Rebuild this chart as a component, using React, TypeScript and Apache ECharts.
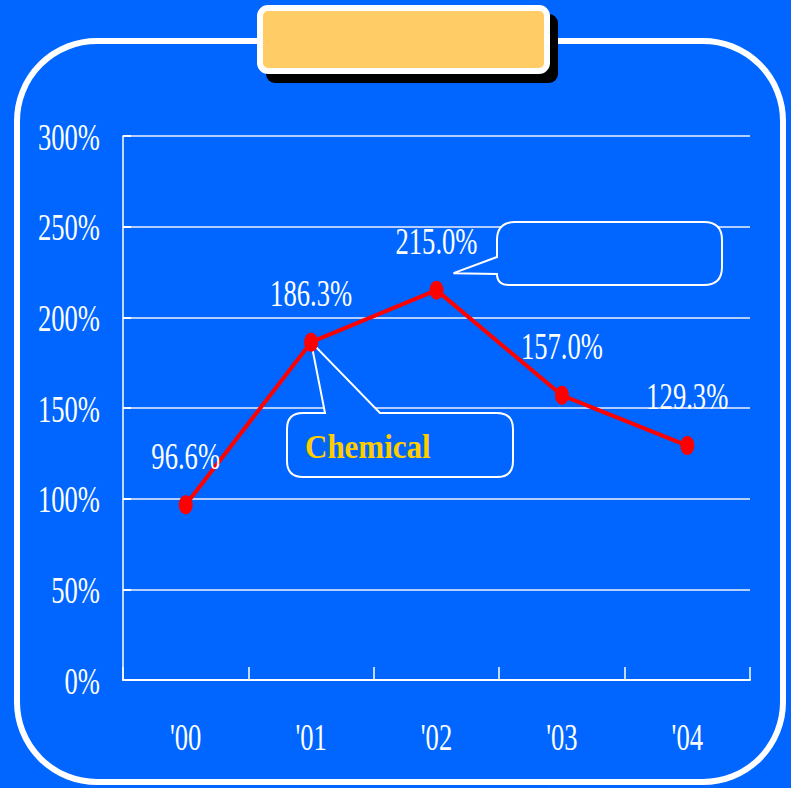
import React, { useEffect, useRef } from "react";
import * as echarts from "echarts";

// Yearly growth rates, in percent
const categories = ["'00", "'01", "'02", "'03", "'04"];
const growthPct = [96.6, 186.3, 215.0, 157.0, 129.3];
const yTickValues = [0, 50, 100, 150, 200, 250, 300];
const calloutLabel = "Chemical";

const BLUE = "#0066FF";
const SERIF = '"Liberation Serif", "Times New Roman", serif';
// Times-style lettering drawn tall and narrow
const LABEL_SIZE = 26.6;
const LABEL_STRETCH = 1.44;

function stretchedText(
  x: number,
  y: number,
  text: string,
  align: string,
  extra: Record<string, unknown> = {}
) {
  return {
    type: "text",
    x,
    y,
    scaleY: LABEL_STRETCH,
    silent: true,
    style: {
      text,
      fill: "#ffffff",
      fontSize: LABEL_SIZE,
      fontFamily: SERIF,
      align,
      verticalAlign: "middle",
      ...extra,
    },
  };
}

function chemCalloutPath(tx: number, ty: number) {
  const L = 287, T = 413, R = 513, B = 477, r = 16;
  return `M ${L + r} ${T} L 325 ${T} L ${tx} ${ty} L 380 ${T} L ${R - r} ${T} Q ${R} ${T} ${R} ${T + r} L ${R} ${B - r} Q ${R} ${B} ${R - r} ${B} L ${L + r} ${B} Q ${L} ${B} ${L} ${B - r} L ${L} ${T + r} Q ${L} ${T} ${L + r} ${T} Z`;
}

function peakCalloutPath(tx: number, ty: number) {
  const L = 497, T = 222, R = 722, B = 285, r = 18;
  return `M ${L + r} ${T} L ${R - r} ${T} Q ${R} ${T} ${R} ${T + r} L ${R} ${B - r} Q ${R} ${B} ${R - r} ${B} L ${L + 12} ${B} Q ${L} ${B} ${L} ${B - 11} L ${tx} ${ty} L ${L} 257 L ${L} ${T + r} Q ${L} ${T} ${L + r} ${T} Z`;
}

export default function App() {
  const ref = useRef<HTMLDivElement>(null);

  useEffect(() => {
    if (!ref.current) return;
    const chart = echarts.init(ref.current, null, { renderer: "svg" });

    const option: any = {
      animation: false,
      backgroundColor: BLUE,
      grid: { left: 123, top: 136, width: 627, height: 544 },
      xAxis: {
        type: "category",
        data: categories,
        boundaryGap: true,
        axisLine: { lineStyle: { color: "#ffffff", width: 2 } },
        axisTick: { show: true, inside: true, length: 13, lineStyle: { color: "#ffffff", width: 1.5 } },
        axisLabel: { show: false },
        splitLine: { show: false },
      },
      yAxis: {
        type: "value",
        min: 0,
        max: 300,
        interval: 50,
        axisLine: { show: true, lineStyle: { color: "#ffffff", width: 1.5 } },
        axisTick: { show: true, inside: true, length: 8, lineStyle: { color: "#ffffff", width: 2 } },
        axisLabel: { show: false },
        splitLine: { show: true, lineStyle: { color: "#eef2ff", width: 1.5 } },
      },
      series: [
        {
          name: "Growth",
          type: "line",
          data: growthPct,
          symbol: "circle",
          symbolSize: [14, 19],
          lineStyle: { color: "#ff0000", width: 4 },
          itemStyle: { color: "#ff0000" },
          label: { show: false },
          z: 3,
        },
        {
          // value labels above each point
          name: "Values",
          type: "custom",
          silent: true,
          z: 4,
          data: growthPct.map((v, i) => [i, v]),
          renderItem: (params: any, api: any) => {
            const p = api.coord([api.value(0), api.value(1)]);
            const v = Number(api.value(1));
            return stretchedText(p[0], p[1] - 49, `${v.toFixed(1)}%`, "center");
          },
        },
        {
          // y axis tick labels
          name: "YLabels",
          type: "custom",
          silent: true,
          data: yTickValues.map((v) => [0, v]),
          renderItem: (params: any, api: any) => {
            const p = api.coord([0, api.value(1)]);
            const cs = params.coordSys;
            return stretchedText(cs.x - 23, p[1] + 1, `${api.value(1)}%`, "right");
          },
        },
        {
          // x axis category labels
          name: "XLabels",
          type: "custom",
          silent: true,
          data: categories.map((_, i) => [i, 0]),
          renderItem: (params: any, api: any) => {
            const p = api.coord([api.value(0), 0]);
            const cs = params.coordSys;
            return stretchedText(p[0], cs.y + cs.height + 57, categories[params.dataIndex], "center");
          },
        },
      ],
    };
    chart.setOption(option);

    // callout pointers anchored to the plotted points
    const chemTip = chart.convertToPixel({ seriesIndex: 0 }, [1, growthPct[1]]) as number[];
    const peak = chart.convertToPixel({ seriesIndex: 0 }, [2, growthPct[2]]) as number[];
    echarts.graphic.registerShape(
      "calloutChem",
      echarts.graphic.extendPath(chemCalloutPath(chemTip[0], chemTip[1]), {}) as any
    );
    echarts.graphic.registerShape(
      "calloutPeak",
      echarts.graphic.extendPath(peakCalloutPath(peak[0] + 17, peak[1] - 17), {}) as any
    );

    chart.setOption({
      graphic: [
        {
          type: "rect",
          z: 0,
          silent: true,
          shape: { x: 17, y: 41, width: 766, height: 741, r: 80 },
          style: { fill: "none", stroke: "#ffffff", lineWidth: 6 },
        },
        {
          type: "rect",
          z: 0,
          silent: true,
          shape: { x: 266, y: 14, width: 292, height: 69, r: 9 },
          style: { fill: "#000000" },
        },
        {
          type: "rect",
          z: 0,
          silent: true,
          shape: { x: 260, y: 8, width: 287, height: 63, r: 8 },
          style: { fill: "#FFCC66", stroke: "#ffffff", lineWidth: 6 },
        },
        {
          type: "calloutPeak",
          z: 1,
          silent: true,
          x: 0,
          y: 0,
          style: { fill: BLUE, stroke: "#ffffff", lineWidth: 2 },
        },
        {
          type: "calloutChem",
          z: 1,
          silent: true,
          x: 0,
          y: 0,
          style: { fill: BLUE, stroke: "#ffffff", lineWidth: 2 },
        },
        {
          type: "text",
          z: 5,
          silent: true,
          x: 305,
          y: 446,
          scaleY: 1.1,
          style: {
            text: calloutLabel,
            fill: "#FFCC00",
            fontSize: 31,
            fontWeight: "bold",
            fontFamily: SERIF,
            align: "left",
            verticalAlign: "middle",
          },
        },
      ],
    });

    return () => {
      chart.dispose();
    };
  }, []);

  return (
    <div
      ref={ref}
      style={{ position: "fixed", left: 0, top: 0, width: 791, height: 788, background: BLUE }}
    />
  );
}
